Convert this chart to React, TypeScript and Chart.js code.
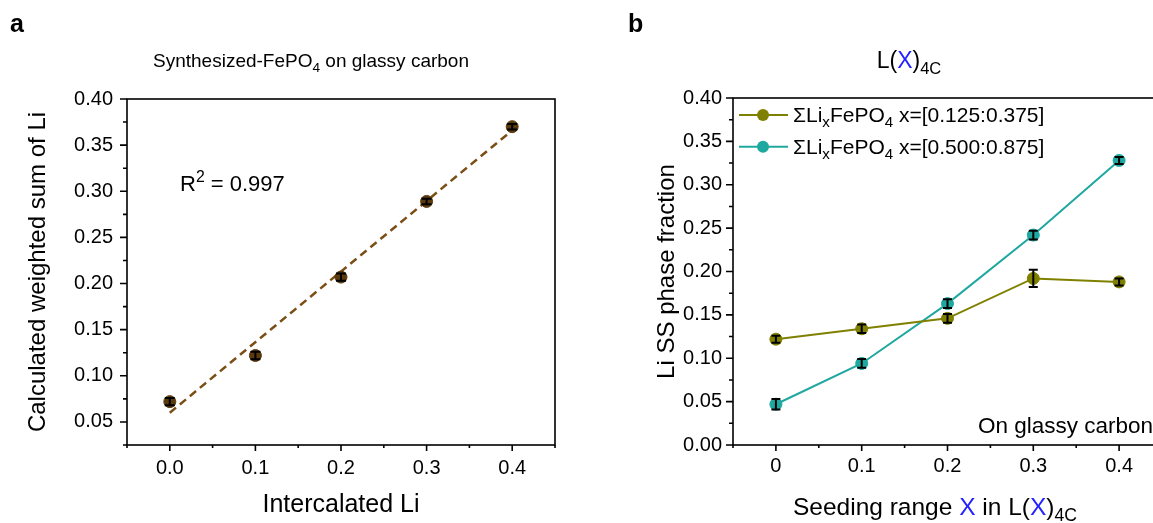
import React, { useEffect, useRef } from "react";
import { Chart, registerables } from "chart.js";

Chart.register(...registerables);

const FONT = '"Liberation Sans", Arial, Helvetica, sans-serif';

// ---------- Panel a data ----------
const intercalatedLi = [0, 0.1, 0.2, 0.3, 0.4];
const weightedSum = [0.072, 0.122, 0.207, 0.289, 0.37];
const weightedSumErr = [0.004, 0.004, 0.004, 0.003, 0.003];
const fitX = [0, 0.4];
const fitY = [0.06, 0.366];
const aXTicks = [0, 0.1, 0.2, 0.3, 0.4];
const aXTickLabels = ["0.0", "0.1", "0.2", "0.3", "0.4"];
const aXMinor = [-0.05, 0.05, 0.15, 0.25, 0.35, 0.45];
const aYTicks = [0.05, 0.1, 0.15, 0.2, 0.25, 0.3, 0.35, 0.4];
const aYTickLabels = ["0.05", "0.10", "0.15", "0.20", "0.25", "0.30", "0.35", "0.40"];
const aYMinor = [0.025, 0.075, 0.125, 0.175, 0.225, 0.275, 0.325, 0.375];

// ---------- Panel b data ----------
const seedingRange = [0, 0.1, 0.2, 0.3, 0.4];
const lowFraction = [0.122, 0.134, 0.146, 0.192, 0.188];
const lowErr = [0.004, 0.005, 0.005, 0.01, 0.004];
const highFraction = [0.047, 0.094, 0.163, 0.242, 0.328];
const highErr = [0.006, 0.005, 0.005, 0.005, 0.004];
const bXTicks = [0, 0.1, 0.2, 0.3, 0.4];
const bXTickLabels = ["0", "0.1", "0.2", "0.3", "0.4"];
const bXMinor = [-0.05, 0.05, 0.15, 0.25, 0.35];
const bYTicks = [0, 0.05, 0.1, 0.15, 0.2, 0.25, 0.3, 0.35, 0.4];
const bYTickLabels = ["0.00", "0.05", "0.10", "0.15", "0.20", "0.25", "0.30", "0.35", "0.40"];
const bYMinor = [0.025, 0.075, 0.125, 0.175, 0.225, 0.275, 0.325, 0.375];

const BROWN_MARK = "#5a3a0e";
const BROWN_LINE = "#7a4e14";
const OLIVE = "#808000";
const TEAL = "#1fa8a0";
const BLUE = "#2222ff";

type Seg = { t: string; sub?: boolean; sup?: boolean; color?: string };

function drawRich(ctx: CanvasRenderingContext2D, segs: Seg[], x: number, y: number, size: number, align: "left" | "center") {
  const widths = segs.map((s) => {
    ctx.font = `${s.sub || s.sup ? size * 0.72 : size}px ${FONT}`;
    return ctx.measureText(s.t).width;
  });
  const total = widths.reduce((a, b) => a + b, 0);
  let cx = align === "center" ? x - total / 2 : x;
  ctx.textAlign = "left";
  ctx.textBaseline = "alphabetic";
  segs.forEach((s, i) => {
    ctx.font = `${s.sub || s.sup ? size * 0.72 : size}px ${FONT}`;
    ctx.fillStyle = s.color || "#000";
    const dy = s.sub ? size * 0.24 : s.sup ? -size * 0.4 : 0;
    ctx.fillText(s.t, cx, y + dy);
    cx += widths[i];
  });
}

function framePlugin(xMajor: number[], xMinor: number[], yMajor: number[], yMinor: number[]) {
  return {
    id: "frameTicks",
    afterDraw(chart: any) {
      const { ctx, chartArea: ca } = chart;
      const xs = chart.scales.x;
      const ys = chart.scales.y;
      ctx.save();
      ctx.strokeStyle = "#000";
      ctx.lineWidth = 1.6;
      ctx.strokeRect(ca.left, ca.top, ca.right - ca.left, ca.bottom - ca.top);
      ctx.beginPath();
      xMajor.forEach((v) => {
        const p = xs.getPixelForValue(v);
        ctx.moveTo(p, ca.bottom);
        ctx.lineTo(p, ca.bottom + 6);
      });
      xMinor.forEach((v) => {
        const p = xs.getPixelForValue(v);
        ctx.moveTo(p, ca.bottom);
        ctx.lineTo(p, ca.bottom + 3);
      });
      yMajor.forEach((v) => {
        const p = ys.getPixelForValue(v);
        ctx.moveTo(ca.left, p);
        ctx.lineTo(ca.left - 7, p);
      });
      yMinor.forEach((v) => {
        const p = ys.getPixelForValue(v);
        ctx.moveTo(ca.left, p);
        ctx.lineTo(ca.left - 4, p);
      });
      ctx.stroke();
      ctx.restore();
    },
  };
}

function errorBarPlugin(list: { ds: number; err: number[] }[], cap: number) {
  return {
    id: "errorBars",
    afterDatasetsDraw(chart: any) {
      const { ctx } = chart;
      const xs = chart.scales.x;
      const ys = chart.scales.y;
      ctx.save();
      ctx.strokeStyle = "#000";
      ctx.lineWidth = 2;
      list.forEach(({ ds, err }) => {
        const data = chart.data.datasets[ds].data as { x: number; y: number }[];
        data.forEach((d, i) => {
          const px = xs.getPixelForValue(d.x);
          const top = ys.getPixelForValue(d.y + err[i]);
          const bot = ys.getPixelForValue(d.y - err[i]);
          ctx.beginPath();
          ctx.moveTo(px, top);
          ctx.lineTo(px, bot);
          ctx.moveTo(px - cap, top);
          ctx.lineTo(px + cap, top);
          ctx.moveTo(px - cap, bot);
          ctx.lineTo(px + cap, bot);
          ctx.stroke();
        });
      });
      ctx.restore();
    },
  };
}

function scaleOpts(
  min: number,
  max: number,
  ticks: number[],
  labels: string[],
  fit: (s: any) => void,
  padding: number
) {
  return {
    type: "linear" as const,
    min,
    max,
    grid: { display: false, drawTicks: false, tickLength: 0 },
    border: { display: false },
    afterBuildTicks: (s: any) => {
      s.ticks = ticks.map((v) => ({ value: v }));
    },
    afterFit: fit,
    ticks: {
      autoSkip: false,
      maxRotation: 0,
      minRotation: 0,
      padding,
      color: "#000",
      font: { family: FONT, size: 20 },
      callback: (_v: any, i: number) => labels[i],
    },
  };
}

export default function App() {
  const refA = useRef<HTMLCanvasElement>(null);
  const refB = useRef<HTMLCanvasElement>(null);

  useEffect(() => {
    const textA = {
      id: "textA",
      afterDraw(chart: any) {
        const ctx: CanvasRenderingContext2D = chart.ctx;
        ctx.save();
        ctx.fillStyle = "#000";
        ctx.font = `bold 25px ${FONT}`;
        ctx.textAlign = "left";
        ctx.textBaseline = "alphabetic";
        ctx.fillText("a", 10, 32);
        drawRich(ctx, [{ t: "Synthesized-FePO" }, { t: "4", sub: true }, { t: " on glassy carbon" }], 311, 67, 19, "center");
        drawRich(ctx, [{ t: "R" }, { t: "2", sup: true }, { t: " = 0.997" }], 180, 191, 22, "left");
        drawRich(ctx, [{ t: "Intercalated Li" }], 341, 512, 25, "center");
        ctx.translate(45, 272);
        ctx.rotate(-Math.PI / 2);
        drawRich(ctx, [{ t: "Calculated weighted sum of Li" }], 0, 0, 24, "center");
        ctx.restore();
      },
    };

    const chartA = new Chart(refA.current!, {
      type: "scatter",
      data: {
        datasets: [
          {
            data: fitX.map((x, i) => ({ x, y: fitY[i] })),
            showLine: true,
            borderColor: BROWN_LINE,
            borderWidth: 2.5,
            borderDash: [8, 5],
            pointRadius: 0,
            order: 2,
          },
          {
            data: intercalatedLi.map((x, i) => ({ x, y: weightedSum[i] })),
            showLine: false,
            pointRadius: 6,
            pointBackgroundColor: BROWN_MARK,
            pointBorderColor: BROWN_MARK,
            pointBorderWidth: 1,
            order: 1,
          },
        ],
      },
      options: {
        responsive: false,
        maintainAspectRatio: false,
        animation: false,
        devicePixelRatio: 1,
        layout: { padding: { left: 0, top: 99, right: 25, bottom: 0 } },
        plugins: { legend: { display: false }, tooltip: { enabled: false }, title: { display: false } },
        scales: {
          x: scaleOpts(-0.05, 0.45, aXTicks, aXTickLabels, (s: any) => { s.height = 78; }, 11),
          y: scaleOpts(0.025, 0.4, aYTicks, aYTickLabels, (s: any) => { s.width = 127; }, 14),
        },
      } as any,
      plugins: [framePlugin(aXTicks, aXMinor, aYTicks, aYMinor), errorBarPlugin([{ ds: 1, err: weightedSumErr }], 5), textA],
    });

    const textB = {
      id: "textB",
      afterDraw(chart: any) {
        const ctx: CanvasRenderingContext2D = chart.ctx;
        ctx.save();
        ctx.fillStyle = "#000";
        ctx.font = `bold 25px ${FONT}`;
        ctx.textAlign = "left";
        ctx.textBaseline = "alphabetic";
        ctx.fillText("b", 48, 32);
        drawRich(ctx, [{ t: "L(" }, { t: "X", color: BLUE }, { t: ")" }, { t: "4C", sub: true }], 329, 68, 23, "center");
        // legend
        const rows = [
          { y: 115, color: OLIVE, range: "x=[0.125:0.375]" },
          { y: 146.7, color: TEAL, range: "x=[0.500:0.875]" },
        ];
        rows.forEach((r) => {
          ctx.strokeStyle = r.color;
          ctx.lineWidth = 2;
          ctx.beginPath();
          ctx.moveTo(159, r.y);
          ctx.lineTo(208, r.y);
          ctx.stroke();
          ctx.fillStyle = r.color;
          ctx.beginPath();
          ctx.arc(183, r.y, 6, 0, Math.PI * 2);
          ctx.fill();
          drawRich(ctx, [{ t: "\u03A3Li" }, { t: "x", sub: true }, { t: "FePO" }, { t: "4", sub: true }, { t: " " + r.range }], 213, r.y + 7, 21, "left");
        });
        drawRich(ctx, [{ t: "On glassy carbon" }], 398, 433, 22.5, "left");
        drawRich(ctx, [{ t: "Seeding range " }, { t: "X", color: BLUE }, { t: " in L(" }, { t: "X", color: BLUE }, { t: ")" }, { t: "4C", sub: true }], 355, 515, 24.5, "center");
        ctx.translate(94, 271.5);
        ctx.rotate(-Math.PI / 2);
        drawRich(ctx, [{ t: "Li SS phase fraction" }], 0, 0, 24, "center");
        ctx.restore();
      },
    };

    const chartB = new Chart(refB.current!, {
      type: "scatter",
      data: {
        datasets: [
          {
            data: seedingRange.map((x, i) => ({ x, y: lowFraction[i] })),
            showLine: true,
            borderColor: OLIVE,
            borderWidth: 2,
            pointRadius: 6,
            pointBackgroundColor: OLIVE,
            pointBorderColor: OLIVE,
            pointBorderWidth: 1,
          },
          {
            data: seedingRange.map((x, i) => ({ x, y: highFraction[i] })),
            showLine: true,
            borderColor: TEAL,
            borderWidth: 2,
            pointRadius: 6,
            pointBackgroundColor: TEAL,
            pointBorderColor: TEAL,
            pointBorderWidth: 1,
          },
        ],
      },
      options: {
        responsive: false,
        maintainAspectRatio: false,
        animation: false,
        devicePixelRatio: 1,
        layout: { padding: { left: 0, top: 98, right: 18, bottom: 0 } },
        plugins: { legend: { display: false }, tooltip: { enabled: false }, title: { display: false } },
        scales: {
          x: scaleOpts(-0.05, 0.45, bXTicks, bXTickLabels, (s: any) => { s.height = 78; }, 9),
          y: scaleOpts(0, 0.4, bYTicks, bYTickLabels, (s: any) => { s.width = 153; }, 11),
        },
      } as any,
      plugins: [
        framePlugin(bXTicks, bXMinor, bYTicks, bYMinor),
        errorBarPlugin([{ ds: 0, err: lowErr }, { ds: 1, err: highErr }], 4.5),
        textB,
      ],
    });

    return () => {
      chartA.destroy();
      chartB.destroy();
    };
  }, []);

  return (
    <div style={{ position: "fixed", left: 0, top: 0, width: "100vw", height: "100vh", overflow: "hidden", background: "#fff" }}>
      <canvas ref={refA} width={580} height={523} style={{ position: "absolute", left: 0, top: 0, width: 580, height: 523 }} />
      <canvas ref={refB} width={600} height={523} style={{ position: "absolute", left: 580, top: 0, width: 600, height: 523 }} />
    </div>
  );
}
